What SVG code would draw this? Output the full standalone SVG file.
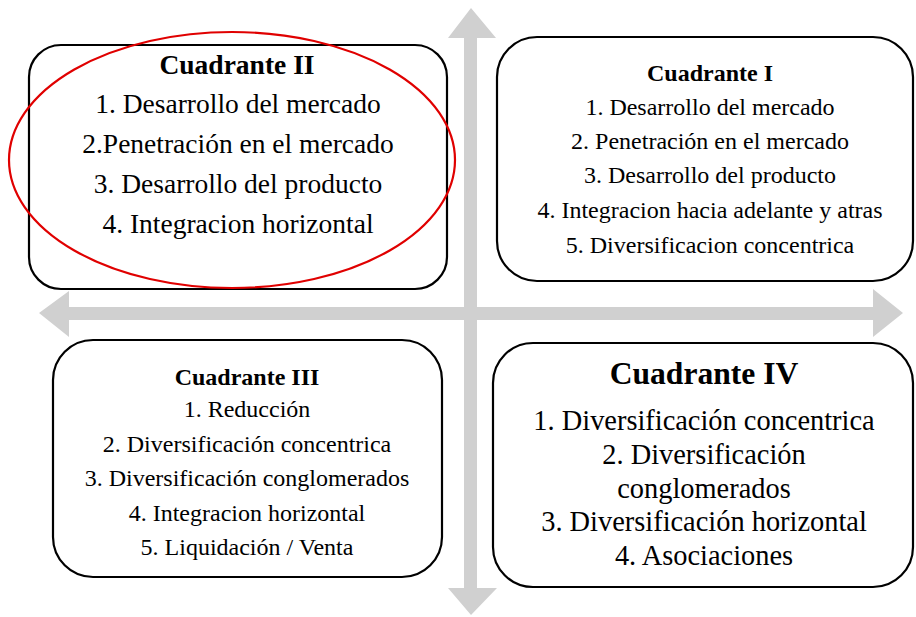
<svg xmlns="http://www.w3.org/2000/svg" width="916" height="617" viewBox="0 0 916 617">
<style>
.box{fill:#fff;stroke:#000;stroke-width:2.2}
.arr{fill:#d0d0d0}
text{font-family:"Liberation Serif","Times New Roman",serif;fill:#000;text-anchor:middle}
.b{font-weight:bold}
.s2{font-size:27.5px}
.s1{font-size:24px}
.s3{font-size:24px}
.s4{font-size:28.4px}
</style>
<rect width="916" height="617" fill="#fff"/>
<g id="connectors">
<polygon class="arr" points="471,8 496,38 477,38 477,588 497,588 471,615 448,588 464,588 464,38 448,38"/>
<polygon class="arr" points="39,313 69,291 69,307 873,307 873,289 903,313 873,337 873,320 69,320 69,337"/>
</g>
<g id="q2">
<rect class="box" x="29" y="45" width="418" height="244" rx="32"/>
<text class="b s2" x="237" y="74">Cuadrante II</text>
<text class="s2" x="238" y="113">1. Desarrollo del mercado</text>
<text class="s2" x="238" y="153">2.Penetración en el mercado</text>
<text class="s2" x="238" y="193">3. Desarrollo del producto</text>
<text class="s2" x="238" y="233">4. Integracion horizontal</text>
</g>
<g id="q1">
<rect class="box" x="497" y="37" width="416" height="244" rx="40"/>
<text class="b s1" x="710" y="81">Cuadrante I</text>
<text class="s1" x="710" y="115">1. Desarrollo del mercado</text>
<text class="s1" x="710" y="149">2. Penetración en el mercado</text>
<text class="s1" x="710" y="183">3. Desarrollo del producto</text>
<text class="s1" x="710" y="218">4. Integracion hacia adelante y atras</text>
<text class="s1" x="710" y="253">5. Diversificacion concentrica</text>
</g>
<g id="q3">
<rect class="box" x="53" y="340" width="389" height="237" rx="40"/>
<text class="b s3" x="247" y="385">Cuadrante III</text>
<text class="s3" x="247" y="417">1. Reducción</text>
<text class="s3" x="247" y="452">2. Diversificación concentrica</text>
<text class="s3" x="247" y="486">3. Diversificación conglomerados</text>
<text class="s3" x="247" y="521">4. Integracion horizontal</text>
<text class="s3" x="247" y="555">5. Liquidación / Venta</text>
</g>
<g id="q4">
<rect class="box" x="493" y="343" width="420" height="244" rx="40"/>
<text class="b" x="704" y="384" font-size="31.6">Cuadrante IV</text>
<text class="s4" x="704" y="430">1. Diversificación concentrica</text>
<text class="s4" x="704" y="464">2. Diversificación</text>
<text class="s4" x="704" y="498">conglomerados</text>
<text class="s4" x="704" y="531">3. Diversificación horizontal</text>
<text class="s4" x="704" y="565">4. Asociaciones</text>
</g>
<ellipse id="highlight" cx="232" cy="160" rx="223" ry="128" fill="none" stroke="#e00000" stroke-width="2.2"/>
</svg>
